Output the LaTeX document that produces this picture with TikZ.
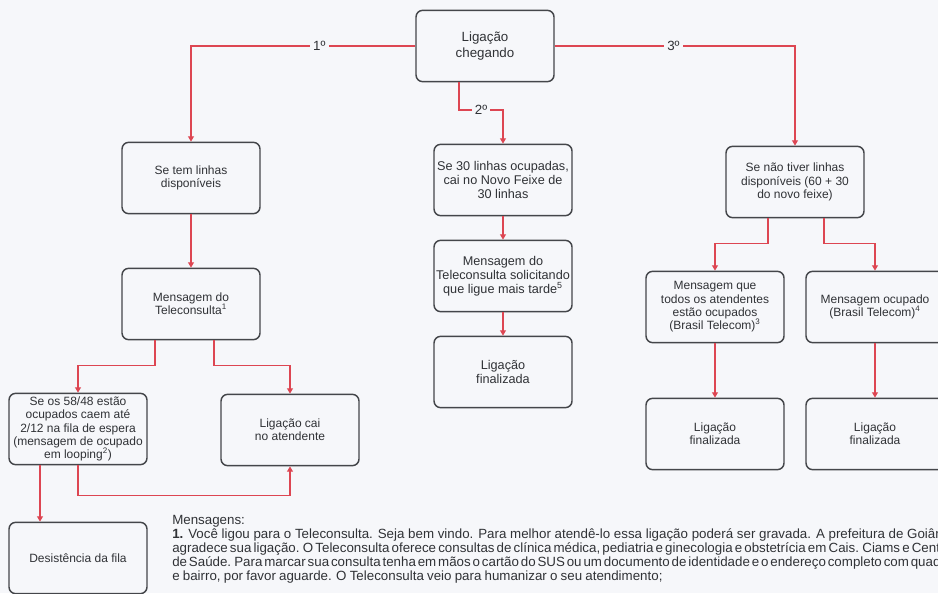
\documentclass[tikz,border=0pt]{standalone}
\usepackage{fontspec}
\setmainfont{Liberation Sans}
\usepackage{xcolor}
\usepackage{tikz}
\usetikzlibrary{arrows}
\usetikzlibrary{arrows.meta}

\definecolor{fundo}{RGB}{246,247,250}
\definecolor{seta}{RGB}{221,70,82}
\definecolor{borda}{RGB}{68,70,74}
\definecolor{texto}{RGB}{48,50,54}

\begin{document}
\begin{tikzpicture}[x=0.75pt, y=-0.75pt, inner sep=1pt, font=\fontsize{9}{10}\selectfont,
    caixa/.style={draw=borda, line width=1.1pt, rounded corners=5pt, text=texto, align=center,
      minimum width=103.5pt, minimum height=53.5pt, inner sep=1pt},
    meio/.style={caixa, font=\fontsize{9.5}{10.5}\selectfont},
    liga/.style={seta, line width=0.8pt, -{Triangle[width=4.5pt, length=4pt]}},
    rotulo/.style={fill=fundo, text=texto, inner sep=2.5pt, font=\fontsize{10}{12}\selectfont},
    nota/.style={anchor=base west, text=texto, inner sep=0pt, font=\fontsize{10}{11}\selectfont}]
    \useasboundingbox (0,0) rectangle (938,593);
    \clip (0,0) rectangle (938,593);
    \fill[fundo] (0,0) rectangle (938,593);
    % topo
    \node[caixa, font=\fontsize{10}{12}\selectfont] (top) at (485,46) {Ligação\\chegando};
    % ramo 1
    \node[caixa] (disp) at (191,178) {Se tem linhas\\disponíveis};
    \node[caixa] (msgtele) at (191,304) {Mensagem do\\Teleconsulta\textsuperscript{1}};
    \node[caixa] (fila) at (78,429) {Se os 58/48 estão\\ocupados caem até\\2/12 na fila de espera\\(mensagem de ocupado\\em looping\textsuperscript{2})};
    \node[caixa] (atend) at (290,430) {Ligação cai\\no atendente};
    \node[caixa] (desist) at (78,558) {Desistência da fila};
    % ramo 2
    \node[meio] (ocup30) at (503,180) {Se 30 linhas ocupadas,\\cai no Novo Feixe de\\30 linhas};
    \node[meio] (msgtarde) at (503,276) {Mensagem do\\Teleconsulta solicitando\\que ligue mais tarde\textsuperscript{5}};
    \node[meio] (fimmeio) at (503,372) {Ligação\\finalizada};
    % ramo 3
    \node[caixa] (semlinhas) at (795,182) {Se não tiver linhas\\disponíveis (60 + 30\\do novo feixe)};
    \node[caixa] (msgtodos) at (715,307) {Mensagem que\\todos os atendentes\\estão ocupados\\(Brasil Telecom)\textsuperscript{3}};
    \node[caixa] (msgocup) at (875,307) {Mensagem ocupado\\(Brasil Telecom)\textsuperscript{4}};
    \node[caixa] (fim3) at (715,434) {Ligação\\finalizada};
    \node[caixa] (fim4) at (875,434) {Ligação\\finalizada};
    % ligacoes
    \draw[liga] (top.west) -| node[rotulo, pos=0.214]{1º} (disp.north);
    \draw[liga] (top.east) -| node[rotulo, pos=0.247]{3º} (semlinhas.north);
    \coordinate (k2) at (503,110);
    \draw[liga] ([xshift=-19.5pt]top.south) |- node[rotulo, pos=0.75]{2º} (k2) -- (ocup30.north);
    \draw[liga] (disp) -- (msgtele);
    \draw[liga] ([xshift=-27pt]msgtele.south) -- ++(0,25) -| (fila.north);
    \draw[liga] ([xshift=17.25pt]msgtele.south) -- ++(0,25) -| (atend.north);
    \draw[liga] (fila.south) -- ++(0,30) -| (atend.south);
    \draw[liga] ([xshift=-28.5pt]fila.south) -- ([xshift=-28.5pt]desist.north);
    \draw[liga] (ocup30) -- (msgtarde);
    \draw[liga] (msgtarde) -- (fimmeio);
    \draw[liga] ([xshift=-20.25pt]semlinhas.south) -- ++(0,25) -| (msgtodos.north);
    \draw[liga] ([xshift=21.75pt]semlinhas.south) -- ++(0,25) -| (msgocup.north);
    \draw[liga] (msgtodos) -- (fim3);
    \draw[liga] (msgocup) -- (fim4);
    % mensagens
    \node[nota] (m0) at (172,524) {Mensagens:};
    \node[nota] (m1) at (172,538) {\textbf{1.} Você ligou para o Teleconsulta. Seja bem vindo. Para melhor atendê-lo essa ligação poderá ser gravada. A prefeitura de Goiânia};
    \node[nota] (m2) at (172,552) {\spaceskip=1.6pt agradece sua ligação. O Teleconsulta oferece consultas de clínica médica, pediatria e ginecologia e obstetrícia em Cais. Ciams e Centros};
    \node[nota] (m3) at (172,566) {\spaceskip=1.4pt de Saúde. Para marcar sua consulta tenha em mãos o cartão do SUS ou um documento de identidade e o endereço completo com quadra};
    \node[nota] (m4) at (172,580) {\spaceskip=2.4pt e bairro, por favor aguarde. O Teleconsulta veio para humanizar o seu atendimento;};
  \end{tikzpicture}
\end{document}
